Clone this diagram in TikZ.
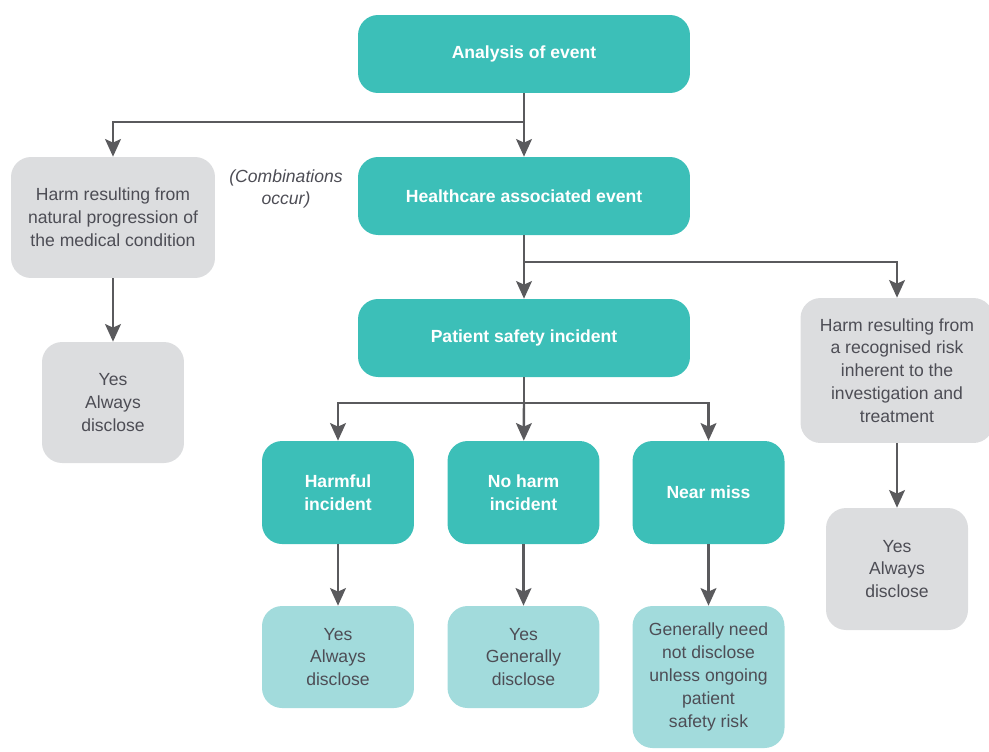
\documentclass[tikz,border=0pt]{standalone}
\usepackage{fontspec}
\setmainfont{Liberation Sans}
\usetikzlibrary{arrows.meta}

\definecolor{teal1}{HTML}{3CBFB8}
\definecolor{teal2}{HTML}{A2DBDC}
\definecolor{grey1}{HTML}{DCDDDF}
\definecolor{lineC}{HTML}{5A5A5D}
\definecolor{textC}{HTML}{4D4D55}

\tikzset{
  box/.style={rounded corners=0.4cm, align=center, inner sep=2pt, font=\fontsize{10}{13}\selectfont},
  main/.style={box, fill=teal1, text=white, font=\fontsize{10}{13}\selectfont\bfseries},
  answer/.style={box, fill=teal2, text=textC},
  other/.style={box, fill=grey1, text=textC},
  link/.style={draw=lineC, line width=1.4pt},
  arr/.style={link, -{Stealth[length=10pt,width=9pt,inset=2pt]}}
}

\begin{document}
\begin{tikzpicture}[x=0.02cm,y=-0.02cm]
  \useasboundingbox (0,0) rectangle (989,751);

  % main chain
  \node[main, minimum width=6.64cm, minimum height=1.56cm] (analysis) at (524,54) {Analysis of event};
  \node[main, minimum width=6.64cm, minimum height=1.56cm] (health) at (524,196) {Healthcare associated event};
  \node[main, minimum width=6.64cm, minimum height=1.56cm] (patient) at (524,338) {Patient safety incident};

  \node[main, minimum width=3.04cm, minimum height=2.06cm] (harmful) at (338,492.5) {Harmful\\incident};
  \node[main, minimum width=3.04cm, minimum height=2.06cm] (noharm) at (523.5,492.5) {No harm\\incident};
  \node[main, minimum width=3.04cm, minimum height=2.06cm] (nearmiss) at (708.5,492.5) {Near miss};

  \node[answer, minimum width=3.04cm, minimum height=2.04cm] (yesharm) at (338,657) {Yes\\Always\\disclose};
  \node[answer, minimum width=3.04cm, minimum height=2.04cm] (yesnoharm) at (523.5,657) {Yes\\Generally\\disclose};
  \node[answer, minimum width=3.04cm, minimum height=2.84cm] (nodisc) at (708.5,677) {Generally need\\not disclose\\unless ongoing\\patient\\safety risk};

  % side branches
  \node[other, minimum width=4.08cm, minimum height=2.42cm] (natural) at (113,217.5) {Harm resulting from\\natural progression of\\the medical condition};
  \node[other, minimum width=2.84cm, minimum height=2.42cm] (yesnatural) at (113,402.5) {Yes\\Always\\disclose};
  \node[other, minimum width=3.86cm, minimum height=2.9cm] (risk) at (897,370.5) {Harm resulting from\\a recognised risk\\inherent to the\\investigation and\\treatment};
  \node[other, minimum width=2.84cm, minimum height=2.44cm] (yesrisk) at (897,569) {Yes\\Always\\disclose};

  \node[text=textC, align=center, font=\fontsize{10}{13}\selectfont\itshape] (combo) at (286,189) {(Combinations\\occur)};

  % junctions
  \coordinate (j1) at (524,122);
  \coordinate (j2) at (524,262);
  \coordinate (j3) at (524,403);

  \draw[link] (analysis) -- (j1);
  \draw[arr] (j1) -- (health);
  \draw[arr] (j1) -| (natural);
  \draw[arr] (natural) -- (yesnatural);

  \draw[link] (health) -- (j2);
  \draw[arr] (j2) -- (patient);
  \draw[arr] (j2) -| (risk);
  \draw[arr] (risk) -- (yesrisk);

  \draw[link] (patient) -- (j3);
  \draw[arr] (j3) -| (harmful);
  \draw[arr] (j3) -- (noharm);
  \draw[arr] (j3) -| (nearmiss);

  \draw[arr] (harmful) -- (yesharm);
  \draw[arr] (noharm) -- (yesnoharm);
  \draw[arr] (nearmiss) -- (nodisc);
\end{tikzpicture}
\end{document}
